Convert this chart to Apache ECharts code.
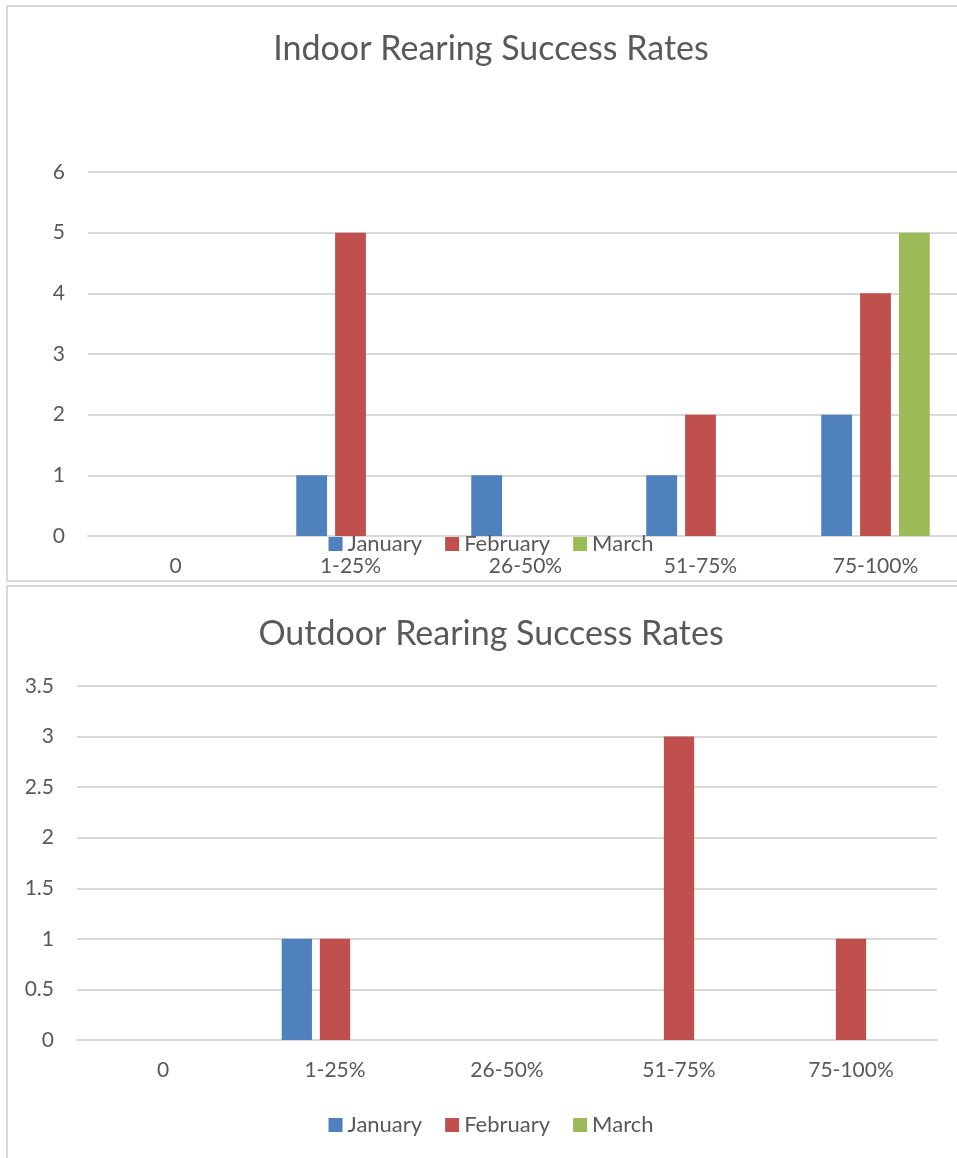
<!DOCTYPE html>
<html>
  <head>
    <meta charset="utf-8" />
    <title>Rearing Success Rates</title>
    <script src="https://cdn.jsdelivr.net/npm/echarts@6/dist/echarts.min.js"></script>
    <style>
      body {
        margin: 0;
        width: 957px;
        height: 1158px;
        overflow: hidden;
        position: relative;
        background: #fff;
      }
      .box {
        position: absolute;
        left: 6px;
        width: 970px;
        border: 2px solid #d9d9d9;
        box-sizing: border-box;
        background: #fff;
      }
      #indoor { top: 5px; height: 577px; }
      #outdoor { top: 585px; height: 590px; }
    </style>
  </head>
  <body>
    <div id="indoor" class="box"></div>
    <div id="outdoor" class="box"></div>

    <script>
      const categories = ['0', '1-25%', '26-50%', '51-75%', '75-100%'];
      const seriesNames = ['January', 'February', 'March'];
      const colors = ['#4f81bd', '#c0504d', '#9bbb59'];

      // indoor counts per month
      const indoorJan = [0, 1, 1, 1, 2];
      const indoorFeb = [0, 5, 0, 2, 4];
      const indoorMar = [0, 0, 0, 0, 5];

      // outdoor counts per month
      const outdoorJan = [0, 1, 0, 0, 0];
      const outdoorFeb = [0, 1, 0, 3, 1];
      const outdoorMar = [0, 0, 0, 0, 0];

      const font = 'Lato, "Liberation Sans", sans-serif';
      const textColor = '#595959';
      const lineColor = '#d9d9d9';

      function makeOption(cfg) {
        return {
          animation: false,
          color: colors,
          title: {
            text: cfg.title,
            left: 'center',
            top: cfg.titleTop,
            textStyle: { fontFamily: font, fontSize: 34, fontWeight: 'normal', color: textColor }
          },
          legend: {
            data: seriesNames,
            left: 'center',
            top: cfg.legendTop,
            icon: 'rect',
            itemWidth: 14,
            itemHeight: 14,
            itemGap: 23,
            textStyle: { fontFamily: font, fontSize: 22, color: textColor }
          },
          grid: {
            left: cfg.gridLeft,
            top: cfg.gridTop,
            width: cfg.gridWidth,
            height: cfg.gridHeight
          },
          xAxis: {
            type: 'category',
            data: categories,
            axisLine: { lineStyle: { color: lineColor, width: 2 } },
            axisTick: { show: false },
            axisLabel: { fontFamily: font, fontSize: 21, color: textColor, margin: 20, interval: 0 }
          },
          yAxis: {
            type: 'value',
            min: 0,
            max: cfg.max,
            interval: cfg.interval,
            axisLine: { show: false },
            axisTick: { show: false },
            splitLine: { lineStyle: { color: lineColor, width: 2 } },
            axisLabel: { fontFamily: font, fontSize: 21, color: textColor, margin: 23 }
          },
          series: seriesNames.map((name, i) => ({
            name: name,
            type: 'bar',
            data: cfg.values[i],
            barGap: '26%',
            barCategoryGap: '38%'
          }))
        };
      }

      const indoorChart = echarts.init(document.getElementById('indoor'));
      indoorChart.setOption(makeOption({
        title: 'Indoor Rearing Success Rates',
        titleTop: 20,
        legendTop: 521,
        gridLeft: 80,
        gridTop: 165,
        gridWidth: 875,
        gridHeight: 364,
        max: 6,
        interval: 1,
        values: [indoorJan, indoorFeb, indoorMar]
      }));

      const outdoorChart = echarts.init(document.getElementById('outdoor'));
      outdoorChart.setOption(makeOption({
        title: 'Outdoor Rearing Success Rates',
        titleTop: 25,
        legendTop: 522,
        gridLeft: 69,
        gridTop: 99,
        gridWidth: 860,
        gridHeight: 354,
        max: 3.5,
        interval: 0.5,
        values: [outdoorJan, outdoorFeb, outdoorMar]
      }));
    </script>
  </body>
</html>
